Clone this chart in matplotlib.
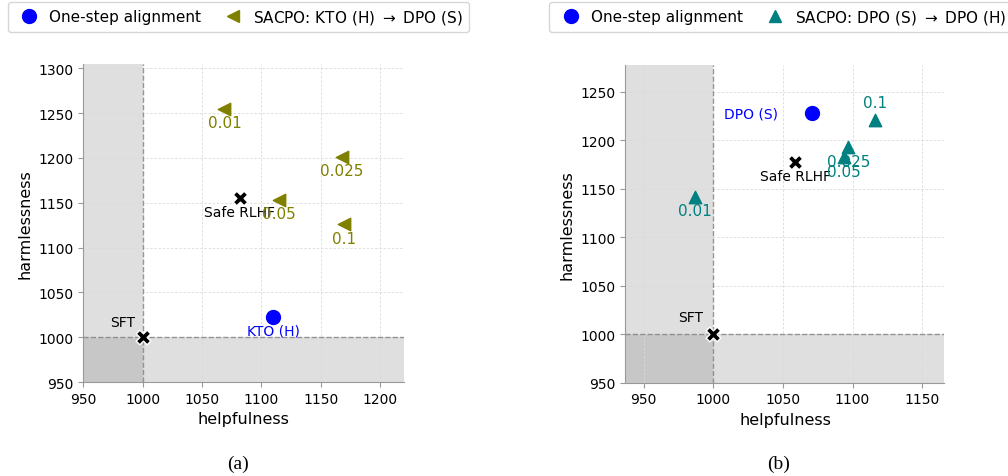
import matplotlib
matplotlib.use('Agg')
import matplotlib.pyplot as plt
from matplotlib.lines import Line2D

# panel (a): KTO (H) -> DPO (S)
sft = (1000, 1000)
a_safe_rlhf = (1082, 1155)
a_one_step = (1110, 1023)
a_betas = ['0.01', '0.025', '0.05', '0.1']
a_help = [1069, 1168, 1115, 1170]
a_harm = [1255, 1201, 1153, 1126]

# panel (b): DPO (S) -> DPO (H)
b_safe_rlhf = (1059, 1178)
b_one_step = (1071, 1228)
b_betas = ['0.01', '0.025', '0.05', '0.1']
b_help = [987, 1097, 1094, 1116]
b_harm = [1142, 1193, 1183, 1221]

fig = plt.figure(figsize=(10.08, 4.77), dpi=100)
ax_a = fig.add_axes([0.0825, 0.197, 0.318, 0.667])
ax_b = fig.add_axes([0.6205, 0.196, 0.3165, 0.666])


def setup(ax, xlim, ylim, xticks, yticks):
    ax.axvspan(xlim[0], 1000, color='gray', alpha=0.25, lw=0, zorder=0)
    ax.axhspan(ylim[0], 1000, color='gray', alpha=0.25, lw=0, zorder=0)
    ax.axvline(1000, color='gray', ls='--', lw=1, alpha=0.8, zorder=1)
    ax.axhline(1000, color='gray', ls='--', lw=1, alpha=0.8, zorder=1)
    ax.set_xlim(*xlim)
    ax.set_ylim(*ylim)
    ax.set_xticks(xticks)
    ax.set_yticks(yticks)
    ax.grid(True, ls=(0, (3, 2)), color='#dadada', lw=0.6, zorder=0)
    ax.set_axisbelow(True)
    for s in ['top', 'right']:
        ax.spines[s].set_visible(False)
    for s in ['left', 'bottom']:
        ax.spines[s].set_color('#999999')
    ax.tick_params(colors='#999999', labelcolor='black', labelsize=10)
    ax.set_xlabel('helpfulness', fontsize=11.5)
    ax.set_ylabel('harmlessness', fontsize=11.5)


def common_points(ax, safe, sft_off):
    ax.scatter(*sft, marker='X', s=110, color='black', edgecolor='white', lw=1, zorder=4)
    ax.annotate('SFT', sft, xytext=sft_off, textcoords='offset points',
                ha='center', va='center', fontsize=10)
    ax.scatter(*safe, marker='X', s=110, color='black', edgecolor='white', lw=1, zorder=4)
    ax.annotate('Safe RLHF', safe, xytext=(0, -10), textcoords='offset points',
                ha='center', va='center', fontsize=10)


setup(ax_a, (950, 1220), (950, 1305), [950, 1000, 1050, 1100, 1150, 1200],
      [950, 1000, 1050, 1100, 1150, 1200, 1250, 1300])
common_points(ax_a, a_safe_rlhf, (-14, 11))
ax_a.scatter(*a_one_step, marker='o', s=100, color='blue', zorder=4)
ax_a.annotate('KTO (H)', a_one_step, xytext=(0, -10), textcoords='offset points',
              ha='center', va='center', fontsize=10, color='blue')
ax_a.scatter(a_help, a_harm, marker='<', s=80, color='olive', zorder=4)
for lab, x, y in zip(a_betas, a_help, a_harm):
    ax_a.annotate(lab, (x, y), xytext=(0, -10), textcoords='offset points',
                  ha='center', va='center', fontsize=11, color='olive')

setup(ax_b, (937, 1166), (950, 1278), [950, 1000, 1050, 1100, 1150],
      [950, 1000, 1050, 1100, 1150, 1200, 1250])
common_points(ax_b, b_safe_rlhf, (-16, 12))
ax_b.scatter(*b_one_step, marker='o', s=100, color='blue', zorder=4)
ax_b.annotate('DPO (S)', b_one_step, xytext=(-44, 0), textcoords='offset points',
              ha='center', va='center', fontsize=10, color='blue')
ax_b.scatter(b_help, b_harm, marker='^', s=80, color='teal', zorder=4)
b_offsets = [(0, -10), (0, -10.5), (0, -10.5), (0, 12.5)]
for lab, x, y, off in zip(b_betas, b_help, b_harm, b_offsets):
    ax_b.annotate(lab, (x, y), xytext=off, textcoords='offset points',
                  ha='center', va='center', fontsize=11, color='teal')

h_one = Line2D([], [], marker='o', ls='', color='blue', markersize=10)
h_a = Line2D([], [], marker='<', ls='', color='olive', markersize=9)
h_b = Line2D([], [], marker='^', ls='', color='teal', markersize=9)
fig.legend([h_one, h_a], ['One-step alignment', r'SACPO: KTO (H) $\rightarrow$ DPO (S)'],
           loc='upper left', bbox_to_anchor=(0.008, 0.994), ncol=2, fontsize=11,
           handletextpad=0.3, columnspacing=1.1, borderpad=0.4, borderaxespad=0)
fig.legend([h_one, h_b], ['One-step alignment', r'SACPO: DPO (S) $\rightarrow$ DPO (H)'],
           loc='upper left', bbox_to_anchor=(0.545, 0.994), ncol=2, fontsize=11,
           handletextpad=0.3, columnspacing=1.1, borderpad=0.4, borderaxespad=0)

fig.text(0.2366, 0.027, '(a)', family='Liberation Serif', fontsize=14,
         ha='center', va='center')
fig.text(0.7725, 0.027, '(b)', family='Liberation Serif', fontsize=14,
         ha='center', va='center')

fig.savefig('out.png', dpi=100)
